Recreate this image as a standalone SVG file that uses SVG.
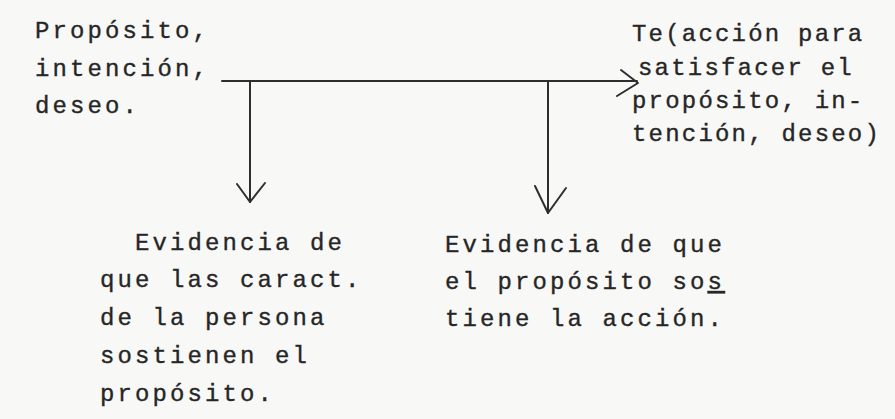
<svg xmlns="http://www.w3.org/2000/svg" width="895" height="419" viewBox="0 0 895 419">
<style>
.t{font-family:"Liberation Mono","DejaVu Sans Mono",monospace;font-size:24px;letter-spacing:3.1px;fill:#262626;stroke:#262626;stroke-width:0.35px}
.r{letter-spacing:2.2px}
.c{fill:none;stroke:#2e2e2e;stroke-width:2;stroke-linecap:round;stroke-linejoin:round}
</style>
<rect width="895" height="419" fill="#f8f8f6"/>
<g id="node-proposito">
<text class="t" x="35" y="38">Propósito,</text>
<text class="t" x="35" y="76">intención,</text>
<text class="t" x="35" y="113">deseo.</text>
</g>
<g id="node-accion">
<text class="t r" x="632" y="41">Te(acción para</text>
<text class="t r" x="638" y="75">satisfacer el</text>
<text class="t r" x="632" y="108">propósito, in-</text>
<text class="t r" x="632" y="141">tención, deseo)</text>
</g>
<g id="node-evidencia-persona">
<text class="t" x="135" y="250">Evidencia de</text>
<text class="t" x="100" y="287">que las caract.</text>
<text class="t" x="100" y="325">de la persona</text>
<text class="t" x="100" y="363">sostienen el</text>
<text class="t" x="100" y="401">propósito.</text>
</g>
<g id="node-evidencia-accion">
<text class="t" x="445" y="252">Evidencia de que</text>
<text class="t" x="445" y="289">el propósito so<tspan text-decoration="underline">s</tspan></text>
<text class="t" x="445" y="326">tiene la acción.</text>
</g>
<g id="connectors">
<path class="c" d="M222 81 H637"/>
<path class="c" d="M621 70 L638 83 L617 96"/>
<path class="c" d="M250 81 V202"/>
<path class="c" d="M237 184 L250 202 L265 183"/>
<path class="c" d="M548 81 V213"/>
<path class="c" d="M535 186 L548 213 L566 188"/>
</g>
</svg>
